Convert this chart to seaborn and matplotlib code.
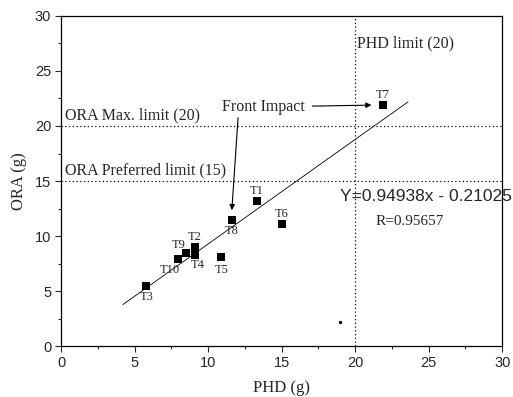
import numpy as np
import pandas as pd
import seaborn as sns
import matplotlib.pyplot as plt

# test results
tests = ["T1", "T2", "T3", "T4", "T5", "T6", "T7", "T8", "T9", "T10"]
phd = [13.3, 9.1, 5.8, 9.1, 10.9, 15.0, 21.9, 11.6, 8.5, 7.95]
ora = [13.2, 9.0, 5.5, 8.3, 8.1, 11.1, 21.9, 11.5, 8.45, 7.9]

# label offsets (points) so labels sit where they do in the original
label_dx = [0, 0, 0, 2, 0, 0, 0, 0, -5, -6]
label_dy = [7, 7, -8, -7, -9, 7, 7, -8, 6, -8]

slope, intercept = 0.94938, -0.21025
fit_x = [4.2, 23.6]

stray_x, stray_y = [19.0], [2.2]

df = pd.DataFrame({"test": tests, "PHD": phd, "ORA": ora})

sns.set_theme(style="ticks")
plt.rcParams["font.family"] = ["Liberation Serif", "DejaVu Serif"]

fig = plt.figure(figsize=(5.13, 3.97), dpi=100)
ax = fig.add_axes([0.119, 0.128, 0.860, 0.832])

# limits
ax.axhline(20, color="black", ls=(0, (1, 2)), lw=0.9)
ax.axhline(15, color="black", ls=(0, (1, 2)), lw=0.9)
ax.axvline(20, color="black", ls=(0, (1, 2)), lw=0.9)

# regression line
fx = np.array(fit_x)
sns.lineplot(x=fx, y=slope * fx + intercept, ax=ax, color="black", lw=0.6)

sns.scatterplot(data=df, x="PHD", y="ORA", ax=ax, marker="s", s=28,
                color="black", edgecolor="black", linewidth=0)
ax.scatter(stray_x, stray_y, s=2, color="black")

for t, x, y, dx, dy in zip(tests, phd, ora, label_dx, label_dy):
    ax.annotate(t, (x, y), xytext=(dx, dy), textcoords="offset points",
                ha="center", va="center", fontsize=9)

ax.text(0.3, 21.0, "ORA Max. limit (20)", fontsize=11.5, va="center")
ax.text(0.3, 16.0, "ORA Preferred limit (15)", fontsize=11.5, va="center")
ax.text(20.1, 27.5, "PHD limit (20)", fontsize=11.5, va="center")

ax.annotate("", xy=(21.3, 21.9), xytext=(16.9, 21.8),
            arrowprops=dict(arrowstyle="-|>", color="black", lw=0.8, mutation_scale=8))
ax.annotate("", xy=(11.6, 12.1), xytext=(12.05, 21.0),
            arrowprops=dict(arrowstyle="-|>", color="black", lw=0.8, mutation_scale=8))
ax.text(13.75, 21.7, "Front Impact", fontsize=11.5, ha="center", va="center")

ax.text(24.8, 13.6, "Y=0.94938x - 0.21025", fontsize=12.5, ha="center", va="center",
        family=["Liberation Sans", "DejaVu Sans"], clip_on=False)
ax.text(23.7, 11.3, "R=0.95657", fontsize=11, ha="center", va="center")

ax.set_xlim(0, 30)
ax.set_ylim(0, 30)
ax.set_xticks(range(0, 31, 5))
ax.set_yticks(range(0, 31, 5))
ax.set_xticks(np.arange(2.5, 30, 5), minor=True)
ax.set_yticks(np.arange(2.5, 30, 5), minor=True)
ax.tick_params(which="major", direction="out", length=4, width=0.8, labelsize=10.5, pad=3)
ax.tick_params(which="minor", direction="out", length=2, width=0.8)
for lbl in ax.get_xticklabels() + ax.get_yticklabels():
    lbl.set_family(["Liberation Sans", "DejaVu Sans"])

for sp in ax.spines.values():
    sp.set_visible(True)
    sp.set_color("black")
    sp.set_linewidth(0.9)

ax.set_xlabel("PHD (g)", fontsize=12, labelpad=7)
ax.set_ylabel("ORA (g)", fontsize=12, labelpad=6)

fig.savefig("out.png", dpi=100)
